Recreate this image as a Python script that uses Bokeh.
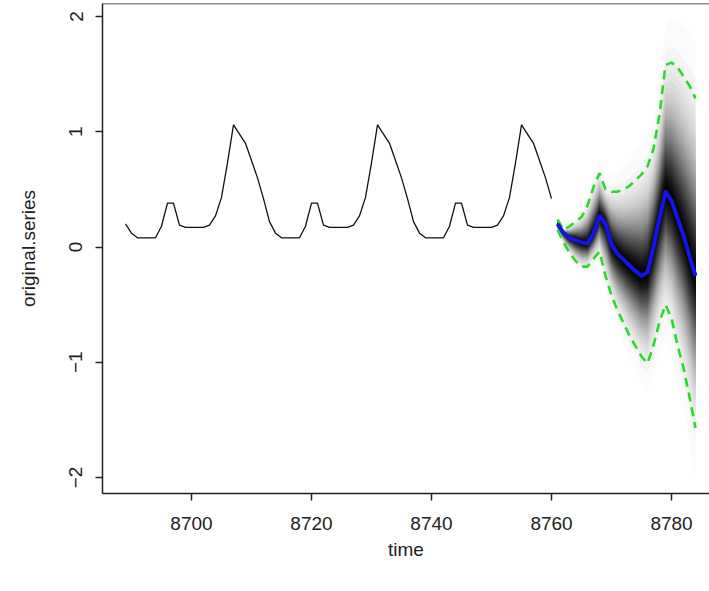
from statistics import NormalDist
from bokeh.plotting import figure
from bokeh.models import FixedTicker, Span
from bokeh.embed import file_html
from bokeh.resources import INLINE

# ---------------- data ----------------
obs_start = 8689
observed = [
    0.20, 0.12, 0.08, 0.08, 0.08, 0.08, 0.18, 0.38, 0.38, 0.19, 0.17, 0.17,
    0.17, 0.17, 0.19, 0.27, 0.43, 0.73, 1.06, 0.98, 0.90, 0.75, 0.60, 0.42,
    0.22, 0.12, 0.08, 0.08, 0.08, 0.08, 0.18, 0.38, 0.38, 0.19, 0.17, 0.17,
    0.17, 0.17, 0.19, 0.27, 0.43, 0.73, 1.06, 0.98, 0.90, 0.75, 0.60, 0.42,
    0.22, 0.12, 0.08, 0.08, 0.08, 0.08, 0.18, 0.38, 0.38, 0.19, 0.17, 0.17,
    0.17, 0.17, 0.19, 0.27, 0.43, 0.73, 1.06, 0.98, 0.90, 0.75, 0.60, 0.42,
]
fc_start = 8761
fc_median = [0.20, 0.12, 0.08, 0.06, 0.04, 0.03, 0.12, 0.27, 0.20, 0.02, -0.06, -0.11,
             -0.16, -0.21, -0.25, -0.22, 0.00, 0.25, 0.48, 0.40, 0.25, 0.10, -0.08, -0.25]
fc_upper = [0.24, 0.15, 0.18, 0.22, 0.26, 0.36, 0.52, 0.64, 0.50, 0.48, 0.48, 0.50,
            0.53, 0.58, 0.63, 0.70, 0.85, 1.15, 1.58, 1.60, 1.56, 1.48, 1.40, 1.29]
fc_lower = [0.15, 0.04, -0.05, -0.12, -0.17, -0.17, -0.10, -0.04, -0.25, -0.42, -0.55, -0.66,
            -0.77, -0.86, -0.95, -1.01, -0.85, -0.65, -0.50, -0.62, -0.85, -1.05, -1.30, -1.57]
x_ticks = [8700, 8720, 8740, 8760, 8780]
y_ticks = [-2, -1, 0, 1, 2]

obs_time = [obs_start + i for i in range(len(observed))]
fc_time = [fc_start + i for i in range(len(fc_median))]

# ---------------- figure ----------------
p = figure(width=709, height=591, output_backend="svg", toolbar_location=None,
           x_range=(8685.17, 8786.33), y_range=(-2.139, 2.113),
           min_border_left=102, min_border_right=0, min_border_top=3,
           min_border_bottom=98, background_fill_color="white",
           border_fill_color="white")
p.outline_line_color = None
p.xgrid.visible = False
p.ygrid.visible = False

# fan of forecast quantiles (grey ramp, outer light -> inner dark)
nd = NormalDist()
z95 = nd.inv_cdf(0.975)
for k in range(99, 0, -2):
    c = k / 100.0
    s = nd.inv_cdf(0.5 + c / 2) / z95
    top = [m + (u - m) * s for m, u in zip(fc_median, fc_upper)]
    bot = [m - (m - l) * s for m, l in zip(fc_median, fc_lower)]
    g = int(round(255 * c ** 1.5))
    p.varea(x=fc_time, y1=bot, y2=top, fill_color=(g, g, g))

p.line(obs_time, observed, line_color="#111111", line_width=1.3)
p.line(fc_time, fc_upper, line_color="#2bd92b", line_width=2.6, line_dash="9 6")
p.line(fc_time, fc_lower, line_color="#2bd92b", line_width=2.6, line_dash="9 6")
p.line(fc_time, fc_median, line_color="#1414e6", line_width=4, line_join="round")

p.add_layout(Span(location=p.y_range.end, dimension="width",
                  line_color="#222222", line_width=1.5))

for ax in (p.xaxis[0], p.yaxis[0]):
    ax.major_tick_in = 0
    ax.major_tick_out = 7
    ax.minor_tick_line_color = None
    ax.axis_line_color = "#222222"
    ax.axis_line_width = 1.5
    ax.major_tick_line_color = "#222222"
    ax.major_tick_line_width = 1.5
    ax.major_label_text_font = "Liberation Sans"
    ax.major_label_text_font_size = "19px"
    ax.major_label_text_color = "#222222"
    ax.axis_label_text_font = "Liberation Sans"
    ax.axis_label_text_font_size = "19px"
    ax.axis_label_text_font_style = "normal"
    ax.axis_label_text_color = "#222222"

p.xaxis.ticker = FixedTicker(ticks=x_ticks)
p.xaxis.axis_label = "time"
p.xaxis.major_label_standoff = 16
p.xaxis.axis_label_standoff = 6

p.yaxis.ticker = FixedTicker(ticks=y_ticks)
p.yaxis.axis_label = "original.series"
p.yaxis.major_label_orientation = "vertical"
p.yaxis.major_label_standoff = 13
p.yaxis.axis_label_standoff = 28

open("out.html", "w").write(file_html(p, INLINE))
